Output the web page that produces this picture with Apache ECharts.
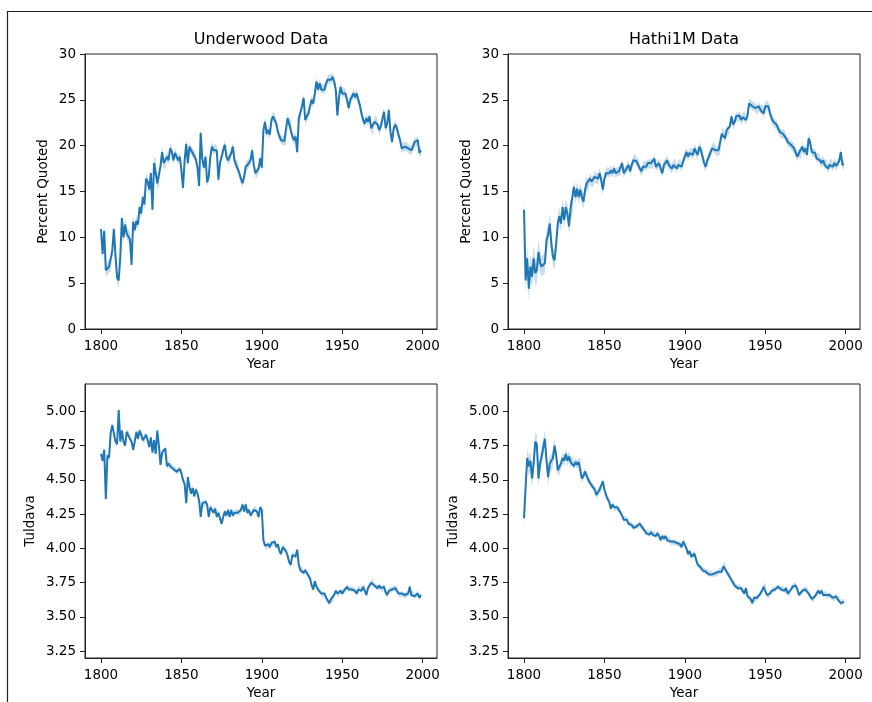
<!DOCTYPE html>
<html>
<head>
<meta charset="utf-8">
<script src="https://cdn.jsdelivr.net/npm/echarts@6/dist/echarts.min.js"></script>
<style>
    html, body { margin: 0; padding: 0; background: #fff; }
    #chart { width: 872px; height: 702px; }
</style>
</head>
<body>
<div id="chart"></div>
<script>
// one value per year, starting at firstYear
var firstYear = 1800;
var xTicks = [1800, 1850, 1900, 1950, 2000];
var tuldavaTicks = [3.25, 3.5, 3.75, 4.0, 4.25, 4.5, 4.75, 5.0];

var uwQuoted = [
    10.9, 8.2, 10.7, 6.4, 6.6, 6.8, 7.0, 8.5, 10.9, 8.0,
    5.6, 5.3, 7.9, 12.1, 10.0, 11.4, 10.4, 10.2, 9.8, 7.0,
    11.7, 10.8, 11.8, 11.4, 13.3, 12.6, 14.4, 13.6, 16.4, 16.1,
    15.2, 17.0, 13.0, 18.1, 18.0, 15.9, 16.0, 17.8, 19.3, 18.1,
    17.9, 18.8, 18.4, 19.7, 19.4, 18.4, 19.2, 18.8, 18.4, 18.8,
    17.3, 15.4, 18.4, 20.2, 18.1, 19.9, 19.5, 19.2, 19.0, 18.5,
    17.6, 15.6, 21.4, 18.5, 17.6, 18.8, 16.0, 16.6, 18.8, 19.9,
    19.5, 19.7, 19.5, 16.3, 18.1, 18.8, 19.5, 20.1, 18.8, 18.4,
    18.6, 19.2, 19.9, 18.4, 17.9, 17.9, 17.0, 16.4, 15.9, 16.6,
    17.7, 17.9, 18.1, 18.4, 19.5, 17.9, 17.0, 17.0, 17.5, 18.6,
    17.6, 21.7, 22.6, 21.3, 21.7, 21.2, 22.8, 23.2, 23.0, 22.4,
    21.5, 21.0, 20.6, 20.6, 20.5, 20.6, 23.0, 22.4, 22.6, 21.0,
    20.6, 21.0, 19.3, 23.0, 23.2, 24.3, 25.2, 22.8, 23.2, 23.5,
    24.3, 25.0, 24.6, 25.7, 27.0, 26.1, 26.8, 26.1, 26.3, 26.1,
    26.8, 27.2, 27.3, 27.2, 27.5, 27.0, 26.1, 23.3, 25.3, 26.4,
    25.7, 25.9, 25.7, 25.0, 24.1, 25.0, 25.3, 25.7, 25.3, 25.7,
    25.0, 24.4, 23.5, 22.8, 22.4, 23.0, 22.6, 23.2, 21.9, 21.7,
    22.6, 22.8, 22.3, 21.7, 22.1, 22.9, 23.7, 21.9, 22.4, 23.9,
    21.5, 20.4, 21.9, 22.3, 21.9, 21.2, 20.6, 19.7, 19.9, 19.9,
    19.9, 19.7, 19.5, 19.5, 19.9, 20.4, 20.3, 20.6, 19.2, 19.5
];
var hathiQuoted = [
    13.0, 5.3, 7.7, 4.4, 6.8, 5.7, 7.7, 6.1, 6.4, 8.4,
    7.2, 6.8, 7.0, 7.2, 9.7, 10.3, 11.5, 9.3, 7.9, 7.5,
    9.3, 11.5, 12.3, 11.5, 13.3, 11.9, 13.3, 12.6, 11.2, 13.2,
    13.0, 15.5, 14.4, 15.3, 14.4, 15.2, 14.4, 13.9, 15.2, 15.9,
    15.7, 16.4, 16.1, 16.1, 16.6, 16.4, 16.4, 17.0, 16.3, 15.2,
    16.4, 17.0, 17.2, 17.0, 17.3, 17.0, 17.5, 17.0, 17.2, 17.2,
    17.3, 18.1, 17.0, 17.3, 17.5, 17.9, 17.2, 17.9, 18.4, 18.6,
    18.3, 18.1, 17.5, 17.2, 17.7, 17.9, 17.7, 18.1, 17.9, 18.1,
    17.9, 18.6, 17.7, 17.9, 18.1, 17.5, 17.0, 17.9, 18.1, 18.4,
    17.9, 17.7, 17.5, 17.9, 18.1, 17.5, 17.9, 18.1, 17.7, 18.3,
    18.8, 19.3, 18.8, 19.2, 19.3, 19.0, 19.7, 19.3, 19.0, 19.9,
    19.5, 19.3, 18.1, 17.7, 18.4, 18.8, 19.3, 19.7, 19.9, 19.5,
    19.3, 19.5, 19.5, 21.3, 21.5, 20.8, 21.7, 21.5, 22.1, 23.2,
    22.3, 22.6, 23.2, 23.0, 23.3, 22.8, 23.1, 23.3, 22.8, 23.3,
    24.6, 24.6, 24.3, 24.3, 24.1, 23.9, 24.3, 23.9, 24.1, 23.5,
    24.3, 24.4, 24.3, 23.5, 23.0, 22.6, 22.4, 22.3, 21.9, 21.5,
    21.3, 21.3, 21.2, 20.8, 20.4, 20.3, 20.1, 19.9, 19.7, 19.2,
    18.8, 19.2, 19.0, 19.9, 19.3, 19.7, 19.0, 20.8, 20.3, 19.3,
    19.2, 19.2, 18.6, 18.8, 18.4, 18.1, 18.4, 17.9, 18.1, 17.5,
    17.9, 18.1, 17.7, 18.1, 17.8, 18.0, 18.3, 19.3, 17.9, 18.0
];
var uwTuldava = [
    4.69, 4.64, 4.72, 4.36, 4.68, 4.66, 4.84, 4.90, 4.84, 4.78,
    4.76, 5.01, 4.78, 4.86, 4.78, 4.75, 4.85, 4.84, 4.80, 4.78,
    4.72, 4.78, 4.85, 4.80, 4.86, 4.83, 4.79, 4.79, 4.83, 4.79,
    4.74, 4.81, 4.70, 4.79, 4.69, 4.86, 4.75, 4.61, 4.70, 4.70,
    4.73, 4.60, 4.62, 4.60, 4.60, 4.58, 4.58, 4.56, 4.57, 4.58,
    4.55, 4.50, 4.47, 4.33, 4.52, 4.45, 4.40, 4.44, 4.38, 4.43,
    4.40, 4.35, 4.23, 4.33, 4.32, 4.34, 4.32, 4.23, 4.30, 4.29,
    4.26, 4.29, 4.23, 4.26, 4.22, 4.18, 4.23, 4.27, 4.24, 4.28,
    4.23, 4.28, 4.24, 4.26, 4.27, 4.26, 4.26, 4.28, 4.32, 4.27,
    4.32, 4.26, 4.28, 4.24, 4.26, 4.28, 4.29, 4.27, 4.23, 4.30,
    4.28, 4.06, 4.02, 4.01, 4.03, 4.01, 4.04, 4.03, 4.05, 4.01,
    4.03, 3.98, 3.96, 4.01, 4.00, 3.98, 3.95, 3.90, 3.88, 3.95,
    3.96, 3.94, 3.99, 3.88, 3.84, 3.85, 3.82, 3.84, 3.82, 3.80,
    3.78, 3.73, 3.70, 3.76, 3.72, 3.70, 3.69, 3.67, 3.66, 3.67,
    3.64, 3.62, 3.60, 3.63, 3.62, 3.66, 3.69, 3.67, 3.67, 3.69,
    3.67, 3.69, 3.70, 3.72, 3.70, 3.71, 3.70, 3.70, 3.69, 3.67,
    3.70, 3.71, 3.69, 3.72, 3.71, 3.66, 3.71, 3.73, 3.75, 3.76,
    3.73, 3.72, 3.71, 3.73, 3.71, 3.70, 3.72, 3.68, 3.66, 3.69,
    3.70, 3.70, 3.71, 3.71, 3.70, 3.67, 3.66, 3.67, 3.66, 3.66,
    3.66, 3.67, 3.72, 3.66, 3.67, 3.65, 3.66, 3.67, 3.64, 3.66
];
var hathiTuldava = [
    4.22, 4.45, 4.66, 4.60, 4.64, 4.51, 4.62, 4.78, 4.76, 4.51,
    4.62, 4.67, 4.74, 4.80, 4.64, 4.52, 4.62, 4.62, 4.66, 4.75,
    4.68, 4.57, 4.58, 4.62, 4.66, 4.64, 4.69, 4.64, 4.67, 4.63,
    4.64, 4.60, 4.63, 4.61, 4.63, 4.63, 4.51, 4.53, 4.56, 4.53,
    4.50, 4.49, 4.46, 4.45, 4.43, 4.39, 4.41, 4.43, 4.43, 4.49,
    4.43, 4.39, 4.36, 4.34, 4.29, 4.32, 4.30, 4.29, 4.30, 4.28,
    4.27, 4.24, 4.21, 4.22, 4.21, 4.18, 4.18, 4.17, 4.15, 4.16,
    4.16, 4.17, 4.18, 4.16, 4.15, 4.13, 4.11, 4.12, 4.10, 4.12,
    4.10, 4.11, 4.09, 4.11, 4.09, 4.06, 4.09, 4.07, 4.09, 4.06,
    4.07, 4.05, 4.04, 4.05, 4.04, 4.04, 4.03, 4.03, 4.01, 4.05,
    4.04, 4.00, 3.96, 3.98, 3.94, 3.95, 3.96, 3.92, 3.88, 3.87,
    3.86, 3.84, 3.84, 3.83, 3.83, 3.81, 3.82, 3.81, 3.81, 3.82,
    3.81, 3.83, 3.84, 3.83, 3.87, 3.88, 3.83, 3.81, 3.80, 3.77,
    3.75, 3.73, 3.72, 3.71, 3.72, 3.71, 3.69, 3.67, 3.71, 3.65,
    3.64, 3.63, 3.60, 3.64, 3.63, 3.64, 3.65, 3.67, 3.69, 3.72,
    3.73, 3.66, 3.65, 3.67, 3.69, 3.70, 3.70, 3.71, 3.72, 3.71,
    3.70, 3.71, 3.69, 3.71, 3.67, 3.67, 3.70, 3.72, 3.73, 3.73,
    3.70, 3.66, 3.67, 3.69, 3.70, 3.70, 3.70, 3.67, 3.65, 3.63,
    3.63, 3.65, 3.67, 3.69, 3.67, 3.69, 3.66, 3.67, 3.66, 3.65,
    3.66, 3.65, 3.64, 3.63, 3.65, 3.63, 3.63, 3.60, 3.61, 3.61
];

// confidence band half-width, one value per decade
var uwQuotedBand = [0.7, 0.7, 0.6, 0.6, 0.5, 0.5, 0.5, 0.5, 0.5, 0.5, 0.5, 0.5, 0.5, 0.5, 0.5, 0.5, 0.5, 0.5, 0.5, 0.5];
var hathiQuotedBand = [1.4, 1.1, 0.9, 0.8, 0.6, 0.5, 0.5, 0.5, 0.5, 0.5, 0.5, 0.5, 0.5, 0.5, 0.5, 0.5, 0.5, 0.5, 0.5, 0.5];
var uwTuldavaBand = [0.02, 0.02, 0.02, 0.02, 0.02, 0.02, 0.02, 0.02, 0.02, 0.02, 0.02, 0.02, 0.02, 0.02, 0.02, 0.02, 0.02, 0.02, 0.02, 0.02];
var hathiTuldavaBand = [0.07, 0.06, 0.04, 0.03, 0.025, 0.02, 0.02, 0.02, 0.02, 0.02, 0.02, 0.02, 0.02, 0.02, 0.02, 0.02, 0.02, 0.02, 0.02, 0.02];

var fontFamily = 'DejaVu Sans';
var lineColor = '#1f77b4';
var bandColor = 'rgba(31,119,180,0.25)';
var myChart = echarts.init(document.getElementById('chart'));

function toPairs(values) {
    var pairs = [];
    for (var i = 0; i < values.length; i++) {
        pairs.push([firstYear + i, values[i]]);
    }
    return pairs;
}

function bandSeries(values, halfWidths, idx) {
    return {
        type: 'custom',
        xAxisIndex: idx,
        yAxisIndex: idx,
        silent: true,
        clip: true,
        data: [[firstYear + 100, values[100]]],
        renderItem: function (params, api) {
            var upper = [];
            var lower = [];
            for (var i = 0; i < values.length; i++) {
                var w = halfWidths[Math.floor(i / 10)];
                upper.push(api.coord([firstYear + i, values[i] + w]));
                lower.unshift(api.coord([firstYear + i, values[i] - w]));
            }
            return {
                type: 'polygon',
                shape: { points: upper.concat(lower) },
                style: { fill: bandColor }
            };
        }
    };
}

function lineSeries(values, idx) {
    return {
        type: 'line',
        xAxisIndex: idx,
        yAxisIndex: idx,
        showSymbol: false,
        data: toPairs(values),
        lineStyle: { color: lineColor, width: 2 },
        itemStyle: { color: lineColor }
    };
}

function xAxis(idx) {
    return {
        type: 'value',
        gridIndex: idx,
        min: 1790.05,
        max: 2008.95,
        name: 'Year',
        nameLocation: 'middle',
        nameGap: 28,
        nameTextStyle: { fontSize: 13.5, color: '#000', fontFamily: fontFamily },
        axisLine: { show: true, lineStyle: { color: '#222', width: 1 } },
        axisTick: { show: true, length: 5, customValues: xTicks, lineStyle: { color: '#222' } },
        axisLabel: {
            customValues: xTicks, margin: 10, fontSize: 13.5, color: '#000', fontFamily: fontFamily,
            formatter: function (v) { return String(v); }
        },
        splitLine: { show: false }
    };
}

function yAxis(idx, name, gap, tuldava) {
    var axis = {
        type: 'value',
        gridIndex: idx,
        name: name,
        nameLocation: 'middle',
        nameGap: gap,
        nameTextStyle: { fontSize: 13.5, color: '#000', fontFamily: fontFamily },
        axisLine: { show: true, lineStyle: { color: '#222', width: 1 } },
        axisTick: { show: true, length: 5, lineStyle: { color: '#222' } },
        axisLabel: { margin: 9, fontSize: 13.5, color: '#000', fontFamily: fontFamily },
        splitLine: { show: false }
    };
    if (tuldava) {
        axis.min = 3.2;
        axis.max = 5.2;
        axis.axisTick.customValues = tuldavaTicks;
        axis.axisLabel.customValues = tuldavaTicks;
        axis.axisLabel.formatter = function (v) { return v.toFixed(2); };
    } else {
        axis.min = 0;
        axis.max = 30;
        axis.interval = 5;
    }
    return axis;
}

function gridBox(left, top, height) {
    return { left: left, top: top, width: 352, height: height, show: true, borderColor: '#222', borderWidth: 1, backgroundColor: 'transparent' };
}

var option = {
    animation: false,
    backgroundColor: '#fff',
    grid: [gridBox(85, 54, 275), gridBox(508, 54, 275), gridBox(85, 384, 274), gridBox(508, 384, 274)],
    xAxis: [xAxis(0), xAxis(1), xAxis(2), xAxis(3)],
    yAxis: [
        yAxis(0, 'Percent Quoted', 35, false),
        yAxis(1, 'Percent Quoted', 35, false),
        yAxis(2, 'Tuldava', 48, true),
        yAxis(3, 'Tuldava', 48, true)
    ],
    graphic: [
        {
            type: 'polyline',
            shape: { points: [[7.5, 702], [7.5, 11.5], [872, 11.5]] },
            style: { stroke: '#222', lineWidth: 1.2, fill: null },
            silent: true
        },
        {
            type: 'text', x: 261, y: 40,
            style: { text: 'Underwood Data', font: '16px "DejaVu Sans"', fill: '#000', align: 'center', verticalAlign: 'middle' }
        },
        {
            type: 'text', x: 684, y: 40,
            style: { text: 'Hathi1M Data', font: '16px "DejaVu Sans"', fill: '#000', align: 'center', verticalAlign: 'middle' }
        }
    ],
    series: [
        bandSeries(uwQuoted, uwQuotedBand, 0),
        lineSeries(uwQuoted, 0),
        bandSeries(hathiQuoted, hathiQuotedBand, 1),
        lineSeries(hathiQuoted, 1),
        bandSeries(uwTuldava, uwTuldavaBand, 2),
        lineSeries(uwTuldava, 2),
        bandSeries(hathiTuldava, hathiTuldavaBand, 3),
        lineSeries(hathiTuldava, 3)
    ]
};
myChart.setOption(option);
</script>
</body>
</html>
